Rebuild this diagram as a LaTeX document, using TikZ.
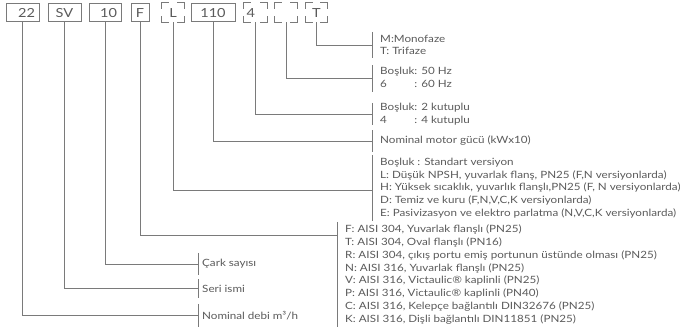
\documentclass[tikz,border=0pt]{standalone}
\usepackage{fontspec}
\setmainfont{Lato}[FakeStretch=1.165]
\usetikzlibrary{calc}
\definecolor{ln}{HTML}{7A7A7A}
\definecolor{tx}{HTML}{5A5A5A}
\tikzset{
  conn/.style={draw=ln, line width=0.9pt},
  box/.style={draw=ln, line width=0.9pt, minimum height=18.5pt, inner sep=0pt, font=\fontsize{12.5}{15}\selectfont, text=tx},
  cbox/.style={box, draw=none},
  desc/.style={anchor=west, align=left, inner xsep=8pt, inner ysep=0pt, font=\fontsize{10}{12.75}\selectfont, text=tx},
  descl/.style={desc, inner xsep=4pt},
}
\newcommand\cornermarks[1]{%
  \draw[conn] ($(#1.north west)+(0pt,-6pt)$) -- (#1.north west) -- ($(#1.north west)+(7pt,0pt)$);
  \draw[conn] ($(#1.north east)+(0pt,-6pt)$) -- (#1.north east) -- ($(#1.north east)+(-7pt,0pt)$);
  \draw[conn] ($(#1.south west)+(0pt,6pt)$) -- (#1.south west) -- ($(#1.south west)+(7pt,0pt)$);
  \draw[conn] ($(#1.south east)+(0pt,6pt)$) -- (#1.south east) -- ($(#1.south east)+(-7pt,0pt)$);
}
\newcommand\bracket[1]{\draw[conn] (#1.north west) -- (#1.south west);}
\begin{document}
\begin{tikzpicture}[x=1pt, y=-1pt]
\useasboundingbox (0,0) rectangle (680,334);
% code boxes
\node[box, minimum width=33pt, text width=25pt, align=right] (b22) at (22.5,12.6) {22};
\node[box, minimum width=33pt] (bSV) at (64.5,12.6) {SV};
\node[box, minimum width=32pt, text width=24pt, align=right] (b10) at (105,12.6) {10};
\node[box, minimum width=18pt] (bF) at (140,12.6) {F};
\node[cbox, minimum width=22pt] (bL) at (173,12.6) {L};
\node[box, minimum width=44pt] (b110) at (213,12.6) {110};
\node[cbox, minimum width=23pt, text width=18pt, align=left] (b4) at (255.5,12.6) {4};
\node[cbox, minimum width=22pt] (bB) at (286,12.6) {};
\node[cbox, minimum width=21pt] (bT) at (316.5,12.6) {T};
\cornermarks{bL}
\cornermarks{b4}
\cornermarks{bB}
\cornermarks{bT}
% descriptions
\node[desc, minimum height=26pt] (dM) at (372,45) {M:Monofaze\\T: Trifaze};
\node[desc, minimum height=26pt] (dHz) at (372,78.5) {Boşluk: 50 Hz\\\rlap{6}\phantom{Boşluk}: 60 Hz};
\node[desc, minimum height=20pt] (dK) at (372,114) {Boşluk: 2 kutuplu\\\rlap{4}\phantom{Boşluk}: 4 kutuplu};
\node[desc, minimum height=21pt] (dMot) at (372,141) {Nominal motor gücü (kWx10)};
\node[desc, minimum height=66pt] (dL) at (372,188) {Boşluk : Standart versiyon\\
L: Düşük NPSH, yuvarlak flanş, PN25 (F,N versiyonlarda)\\
H: Yüksek sıcaklık, yuvarlık flanşlı,PN25 (F, N versiyonlarda)\\
D: Temiz ve kuru (F,N,V,C,K versiyonlarda)\\
E: Pasivizasyon ve elektro parlatma (N,V,C,K versiyonlarda)};
\node[desc, minimum height=105pt] (dF) at (337,274.5) {F: AISI 304, Yuvarlak flanşlı (PN25)\\
T: AISI 304, Oval flanşlı (PN16)\\
R: AISI 304, çıkış portu emiş portunun üstünde olması (PN25)\\
N: AISI 316, Yuvarlak flanşlı (PN25)\\
V: AISI 316, Victaulic® kaplinli (PN25)\\
P: AISI 316, Victaulic® kaplinli (PN40)\\
C: AISI 316, Kelepçe bağlantılı DIN32676 (PN25)\\
K: AISI 316, Dişli bağlantılı DIN11851 (PN25)};
\node[descl, minimum height=22pt] (dC) at (198,264) {Çark sayısı};
\node[descl, minimum height=18pt] (dS) at (198,288.5) {Seri ismi};
\node[descl, minimum height=23pt] (dD) at (198,315.5) {Nominal debi m³/h};
\foreach \d in {dM,dHz,dK,dMot,dL,dF,dC,dS,dD} {\bracket{\d}}
\coordinate (hL) at ($(dL.north west)+(0pt,-36pt)$);
\coordinate (hF) at ($(dF.north west)+(0pt,-14pt)$);
% connectors
\draw[conn] (bT.south) |- (dM.west);
\draw[conn] (bB.south) |- (dHz.west);
\draw[conn] (b4.south) |- (dK.west);
\draw[conn] (b110.south) |- (dMot.west);
\draw[conn] (bL.south) |- (hL);
\draw[conn] (bF.south) |- (hF);
\draw[conn] (b10.south) |- (dC.west);
\draw[conn] (bSV.south) |- (dS.west);
\draw[conn] (b22.south) |- (dD.west);
\end{tikzpicture}
\end{document}
